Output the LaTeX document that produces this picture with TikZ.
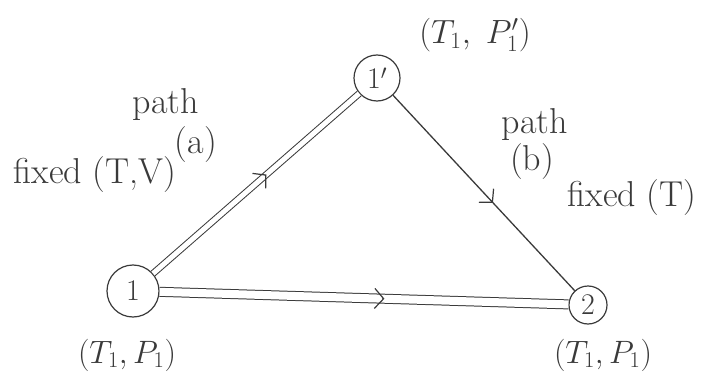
\documentclass[tikz,border=0pt]{standalone}
\usepackage{graphicx}
\usetikzlibrary{arrows.meta,decorations.markings}
\definecolor{ink}{HTML}{3A3A3A}
\tikzset{
  x=1pt,y=-1pt,
  state/.style={circle,draw=ink,line width=1.2pt,inner sep=0pt,font=\fontsize{30}{32}\selectfont,text=ink},
  dbl/.style={draw=ink,line width=1pt,double=white,double distance=#1},
  sgl/.style={draw=ink,line width=1.3pt},
  midarrow/.style={decorate,decoration={markings,mark=at position #1 with {\draw[ink,line width=1.2pt,-{Straight Barb[length=9pt,width=20pt]}] (-2pt,0) -- (0,0);}}},
  lbl/.style={text=ink,font=\fontsize{36}{38}\selectfont,inner sep=0pt},
  mlbl/.style={text=ink,font=\fontsize{24}{26}\selectfont,inner sep=0pt}
}
\begin{document}
\begin{tikzpicture}
\useasboundingbox (0,0) rectangle (717,385);
\node[state,minimum size=52pt] (n1) at (133,291) {1};
\node[state,minimum size=46pt] (n1p) at (377,78) {1$'$};
\node[state,minimum size=38pt] (n2) at (588,305) {2};
\draw[dbl=5pt] (n1) -- (n1p);
\draw[dbl=8pt] (n1) -- (n2);
\draw[sgl] (n1p) -- (n2);
\path[midarrow=0.55] (n1) -- (n1p);
\path[midarrow=0.55] (n1) -- (n2);
\path[midarrow=0.55] (n1p) -- (n2);
\node[lbl] (pa) at (166,105) {path};
\node[lbl] (a) at (196,145) {(a)};
\node[lbl] (fa) at (95,175) {fixed (T,V)};
\node[mlbl] (s1p) at (475,35) {\scalebox{1.35}{$(T_1,\;P_1')$}};
\node[lbl] (pb) at (535,125) {path};
\node[lbl] (b) at (532,162) {(b)};
\node[lbl] (fb) at (632,198) {fixed (T)};
\node[mlbl] (s1) at (127,355) {\scalebox{1.3}{$(T_1,P_1)$}};
\node[mlbl] (s2) at (603,355) {\scalebox{1.3}{$(T_1,P_1)$}};
\end{tikzpicture}
\end{document}
